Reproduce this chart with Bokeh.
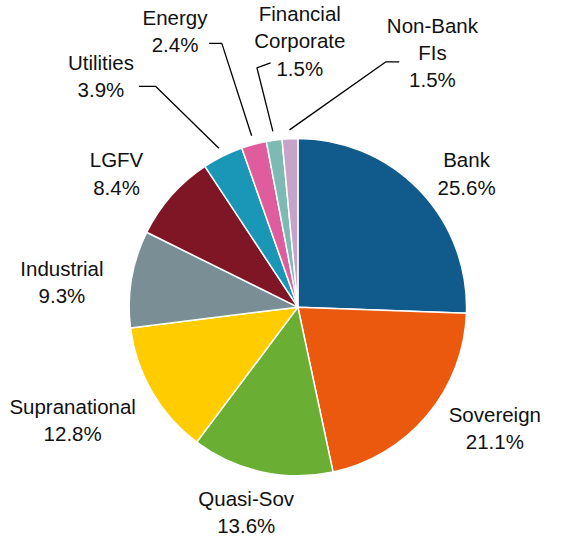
import math
from bokeh.plotting import figure
from bokeh.models import Range1d, ColumnDataSource
from bokeh.core.properties import value
from bokeh.embed import file_html
from bokeh.resources import INLINE

# ---- data ----
categories = ["Bank", "Sovereign", "Quasi-Sov", "Supranational", "Industrial",
              "LGFV", "Utilities", "Energy", "Financial\nCorporate", "Non-Bank\nFIs"]
shares = [25.6, 21.1, 13.6, 12.8, 9.3, 8.4, 3.9, 2.4, 1.5, 1.5]
colors = ["#105B8C", "#EA590E", "#6AAF33", "#FFCC00", "#7A8E96",
          "#7E1626", "#1A96B6", "#DF5C9D", "#7CBAB3", "#C8A3C9"]

# ---- layout (reference pixel coordinates, scaled by K to fit the frame) ----
W, H = 553, 538
K = 0.975
CX, CY, R = 313, 322.5, 173
label_pos = [(486, 185.5), (515, 446.5), (260, 533), (82, 438.5), (71, 296.5),
             (127, 185.5), (111, 85.5), (187, 39), (315, 49.5), (451, 61.5)]
# leader line outer points for the small slices (index -> points list)
leader_outer = {6: [(150, 96), (167, 96)],
                7: [(222, 52), (235, 52)],
                8: [(285, 72), (271, 77)],
                9: [(417, 71), (403, 71)]}
LEADER_R = R + 9


def tx(x):
    return 8 + (x - 8) * K


def ty(y):  # reference y (down) -> data y (up)
    return 554 - (8 + (y - 8) * K)


p = figure(width=W, height=H, output_backend="svg", toolbar_location=None,
           x_range=Range1d(8, 8 + W), y_range=Range1d(8, 8 + H),
           x_axis_location=None, y_axis_location=None,
           min_border=0, outline_line_color=None)
p.grid.visible = False
p.background_fill_color = "white"
p.border_fill_color = "white"

total = sum(shares)
starts, ends, mids = [], [], []
cum = 0.0
for s in shares:
    a0 = cum / total
    cum += s
    a1 = cum / total
    starts.append(math.pi / 2 - a0 * 2 * math.pi)
    ends.append(math.pi / 2 - a1 * 2 * math.pi)
    mids.append((a0 + a1) / 2)

src = ColumnDataSource(dict(start=starts, end=ends, color=colors))
p.wedge(x=tx(CX), y=ty(CY), radius=R * K, start_angle="start", end_angle="end",
        direction="clock", fill_color="color", line_color="white",
        line_width=1.5, source=src)

# leader lines
for i, pts in leader_outer.items():
    ang = mids[i] * 2 * math.pi
    ix = CX + LEADER_R * math.sin(ang)
    iy = CY - LEADER_R * math.cos(ang)
    xs = [tx(q[0]) for q in pts] + [tx(ix)]
    ys = [ty(q[1]) for q in pts] + [ty(iy)]
    p.line(xs, ys, line_color="black", line_width=1.3)

texts = [f"{c}\n{s:.1f}%" for c, s in zip(categories, shares)]
lsrc = ColumnDataSource(dict(x=[tx(q[0]) for q in label_pos],
                             y=[ty(q[1]) for q in label_pos], text=texts))
p.text(x="x", y="y", text="text", source=lsrc, text_align="center",
       text_baseline="middle", text_font=value("Liberation Sans"),
       text_font_size="20.5px", text_line_height=1.18, text_color="#111111")

open("out.html", "w").write(file_html(p, INLINE))
